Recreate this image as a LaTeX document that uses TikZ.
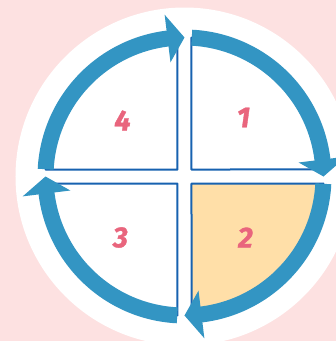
\documentclass[tikz,border=0pt]{standalone}
\usepackage{fontspec}
\newfontfamily\numfont{Fira Sans}[FakeBold=1.2]
\usepackage{xcolor}
\usepackage{tikz}

\definecolor{bgpink}{HTML}{FDE1E1}
\definecolor{ringblue}{HTML}{3395C3}
\definecolor{edgeblue}{HTML}{1762B0}
\definecolor{quadyellow}{HTML}{FFDFA8}
\definecolor{numpink}{HTML}{E9657D}

\begin{document}
\begin{tikzpicture}[x=1pt,y=1pt,line join=round,
  ring/.style={ringblue,line width=16pt},
  head/.style={fill=ringblue},
  quad/.style={draw=edgeblue,line width=2pt},
  num/.style={numpink,font=\numfont\bfseries\itshape\fontsize{29}{29}\selectfont}]
  % background and white disc
  \fill[bgpink] (-184.5,-164.5) rectangle (151.5,176.5);
  \useasboundingbox (-184.5,-164.5) rectangle (151.5,176.5);
  \fill[white] (0,0) circle (169);
  % the four quadrants
  \draw[quad] (7,7) -- (7,138.82) arc (87.11:2.89:139) -- cycle;
  \draw[quad,fill=quadyellow] (7,-7) -- (138.82,-7) arc (-2.89:-87.11:139) -- cycle;
  \draw[quad] (-7,-7) -- (-7,-138.82) arc (-92.89:-177.11:139) -- cycle;
  \draw[quad] (-7,7) -- (-138.82,7) arc (177.11:92.89:139) -- cycle;
  % ring arrows, clockwise
  \draw[ring] (87:139) arc (87:6.5:139);
  \fill[head] (0:139) -- (7:163) -- (7:115) -- cycle;
  \draw[ring] (-3:139) arc (-3:-83.5:139);
  \fill[head] (-90:139) -- (-83:163) -- (-83:115) -- cycle;
  \draw[ring] (-93:139) arc (-93:-173.5:139);
  \fill[head] (-180:139) -- (-173:163) -- (-173:115) -- cycle;
  \draw[ring] (177:139) arc (177:96.5:139);
  \fill[head] (90:139) -- (97:163) -- (97:115) -- cycle;
  % step numbers
  \node[num] (n1) at (59,59) {1};
  \node[num] (n2) at (61,-61) {2};
  \node[num] (n3) at (-64,-61) {3};
  \node[num] (n4) at (-62,56) {4};
\end{tikzpicture}
\end{document}
